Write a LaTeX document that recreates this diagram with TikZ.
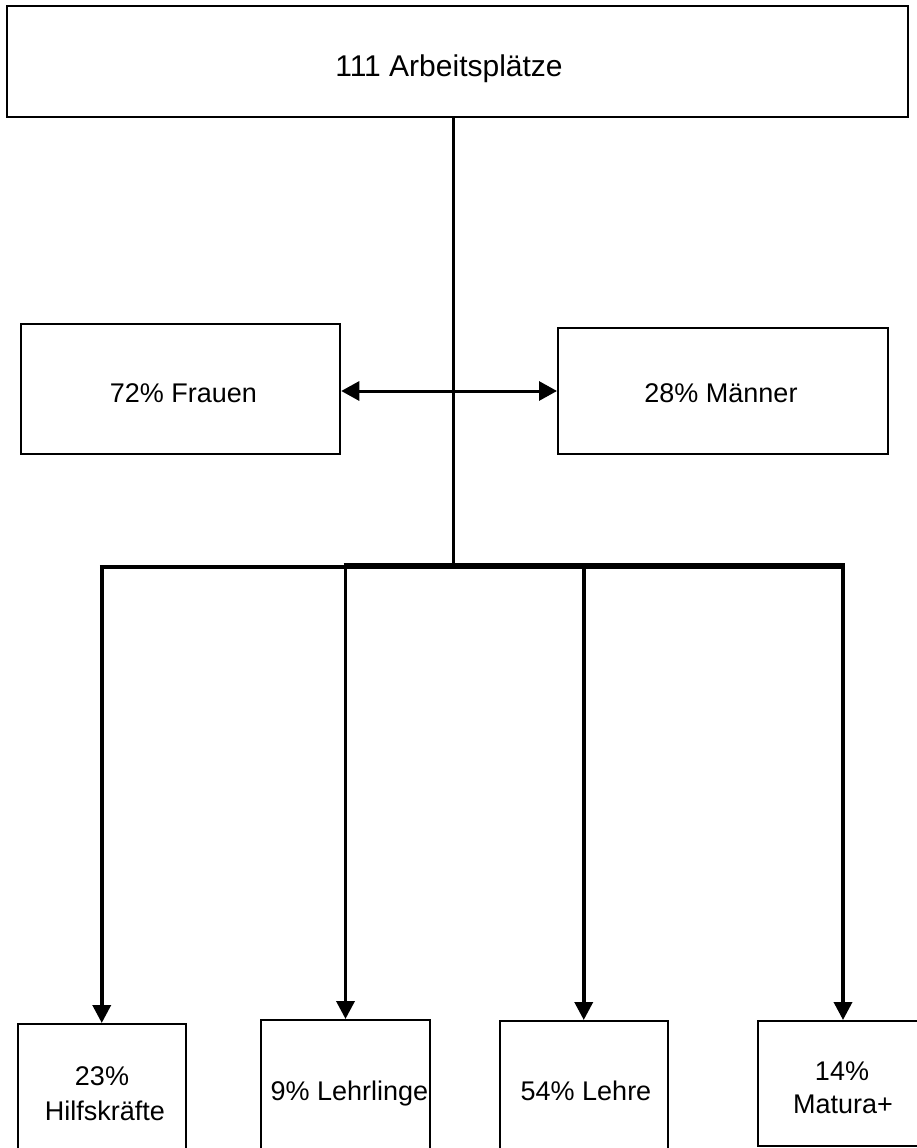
\documentclass[tikz,border=0pt]{standalone}
\usepackage{fontspec}
\setmainfont{Liberation Sans}
\usetikzlibrary{arrows.meta}

\begin{document}
\begin{tikzpicture}[
  x={(1pt,0pt)}, y={(0pt,-1pt)},
  box/.style={draw=black, line width=2pt, fill=white, rectangle, inner sep=0pt},
  lbl/.style={font=\fontsize{27}{34}\selectfont, align=center, inner sep=0pt},
  toplbl/.style={font=\fontsize{30}{34}\selectfont, inner sep=0pt},
  wire/.style={line width=3.6pt},
  down/.style={line width=3.6pt, -{Triangle[length=18pt,width=18pt]}},
  both/.style={line width=3pt, {Triangle[length=18pt,width=19pt]}-{Triangle[length=18pt,width=19pt]}}
]
\useasboundingbox (0,0) rectangle (917,1148);
\clip (0,0) rectangle (917,1148);
\fill[white] (0,0) rectangle (917,1148);

% boxes
\node[box, minimum width=901pt, minimum height=111pt] (total) at (457.5,61.5) {};
\node[box, minimum width=319.5pt, minimum height=130pt] (frauen) at (180.5,389) {};
\node[box, minimum width=330pt, minimum height=126pt] (maenner) at (723,391) {};
\node[box, minimum width=168.5pt, minimum height=146pt] (hilf) at (101.75,1097) {};
\node[box, minimum width=169pt, minimum height=150pt] (lehrl) at (345.5,1095) {};
\node[box, minimum width=168.5pt, minimum height=150pt] (lehre) at (583.75,1096) {};
\node[box, minimum width=170pt, minimum height=125pt] (matura) at (843,1083.5) {};

% labels
\node[toplbl, anchor=base] (totaltxt) at (449,77) {111 Arbeitsplätze};
\node[lbl, anchor=base] (frauentxt) at (183.5,402.5) {72\% Frauen};
\node[lbl, anchor=base] (maennertxt) at (721,402.5) {28\% Männer};
\node[lbl, anchor=base] (hilftxt1) at (102,1085) {23\%};
\node[lbl, anchor=base] (hilftxt2) at (105,1120) {Hilfskräfte};
\node[lbl, anchor=base] (lehrltxt) at (349.5,1100.5) {9\% Lehrlinge};
\node[lbl, anchor=base] (lehretxt) at (586,1100) {54\% Lehre};
\node[lbl, anchor=base] (maturatxt1) at (842,1080) {14\%};
\node[lbl, anchor=base] (maturatxt2) at (843,1113) {Matura+};

% junction points
\coordinate (hub) at (453.5,567);
\coordinate (g) at (453.5,391);
\coordinate (j1) at (101.75,567);
\coordinate (j2) at (345.5,567);
\coordinate (j3) at (583.75,567);
\coordinate (j4) at (843,567);

% trunk and distribution bar (right part doubled, so it reads heavier)
\draw[wire] (hub |- total.south) -- (hub);
\draw[wire] ([xshift=-1.8pt]j1) -- ([xshift=1.8pt]j4);
\draw[wire] ([yshift=2pt,xshift=-1.8pt]j2) -- ([yshift=2pt,xshift=1.8pt]j4);

% gender split
\draw[both] (frauen.east |- g) -- (maenner.west |- g);

% qualification arrows
\draw[down] (j1) -- (hilf.north);
\draw[down] (j2) -- (lehrl.north);
\draw[down] (j3) -- (lehre.north);
\draw[down] (j4) -- (matura.north);
\end{tikzpicture}
\end{document}
